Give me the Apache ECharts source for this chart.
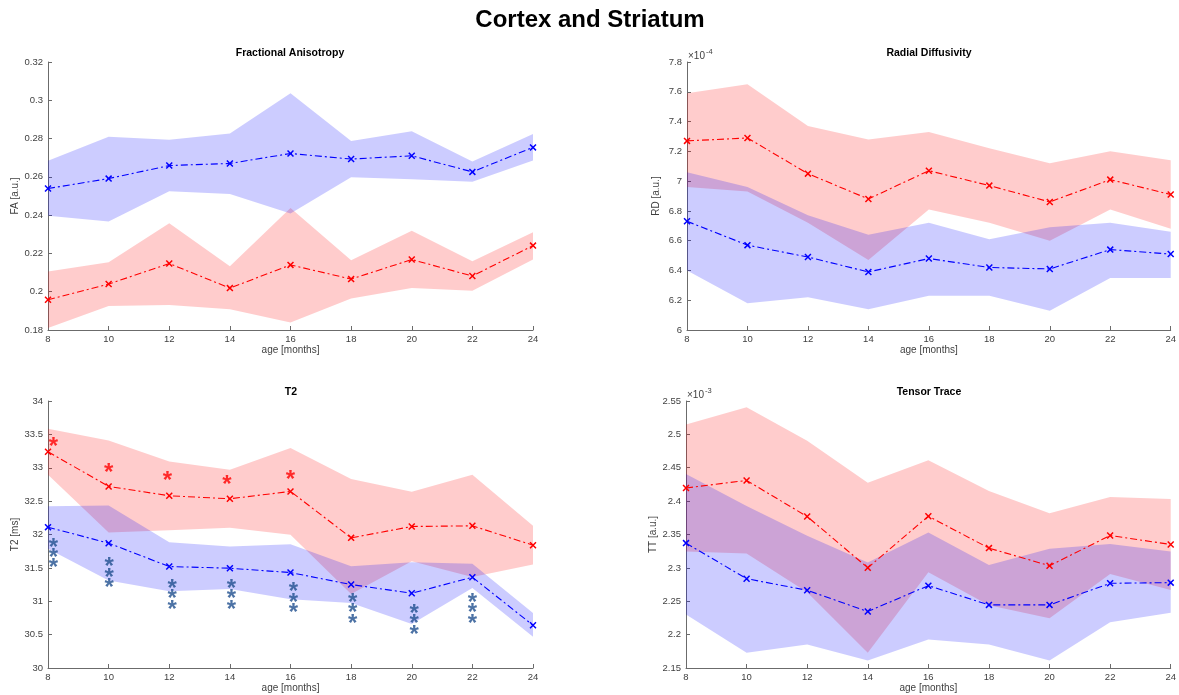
<!DOCTYPE html>
<html>
<head>
<meta charset="utf-8">
<script src="https://cdn.jsdelivr.net/npm/echarts@6/dist/echarts.min.js"></script>
<style>
  html, body { margin: 0; padding: 0; background: #ffffff; }
  #chart { width: 1179px; height: 695px; }
</style>
</head>
<body>
<div id="chart"></div>
<script>
// Age of the animals at each scan
const ages = [8, 10, 12, 14, 16, 18, 20, 22, 24];

// Fractional anisotropy [a.u.]
const faRedMean   = [0.1958, 0.2040, 0.2147, 0.2019, 0.2140, 0.2066, 0.2168, 0.2082, 0.2241];
const faRedUpper  = [0.2105, 0.2154, 0.2357, 0.2133, 0.2437, 0.2164, 0.2318, 0.2159, 0.2311];
const faRedLower  = [0.1810, 0.1926, 0.1930, 0.1909, 0.1839, 0.1965, 0.2019, 0.2005, 0.2168];
const faBlueMean  = [0.2539, 0.2591, 0.2659, 0.2670, 0.2722, 0.2693, 0.2710, 0.2626, 0.2754];
const faBlueUpper = [0.2684, 0.2810, 0.2794, 0.2826, 0.3037, 0.2787, 0.2838, 0.2680, 0.2824];
const faBlueLower = [0.2397, 0.2367, 0.2525, 0.2510, 0.2409, 0.2598, 0.2588, 0.2574, 0.2686];

// Radial diffusivity [x 1e-4]
const rdRedMean   = [7.27, 7.29, 7.05, 6.88, 7.07, 6.97, 6.86, 7.01, 6.91];
const rdRedUpper  = [7.59, 7.65, 7.37, 7.28, 7.33, 7.22, 7.12, 7.20, 7.14];
const rdRedLower  = [6.96, 6.93, 6.72, 6.47, 6.81, 6.72, 6.60, 6.81, 6.68];
const rdBlueMean  = [6.73, 6.57, 6.49, 6.39, 6.48, 6.42, 6.41, 6.54, 6.51];
const rdBlueUpper = [7.06, 6.96, 6.77, 6.64, 6.72, 6.61, 6.69, 6.72, 6.66];
const rdBlueLower = [6.40, 6.18, 6.22, 6.14, 6.23, 6.23, 6.13, 6.35, 6.35];

// T2 relaxation time [ms]
const t2RedMean   = [33.24, 32.72, 32.58, 32.535, 32.645, 31.95, 32.12, 32.13, 31.84];
const t2RedUpper  = [33.585, 33.41, 33.095, 32.97, 33.295, 32.83, 32.64, 32.895, 32.13];
const t2RedLower  = [32.895, 32.03, 32.065, 32.10, 31.995, 31.11, 31.60, 31.365, 31.55];
const t2BlueMean  = [32.11, 31.87, 31.52, 31.495, 31.43, 31.25, 31.12, 31.36, 30.64];
const t2BlueUpper = [32.425, 32.435, 31.885, 31.82, 31.855, 31.525, 31.585, 31.56, 30.825];
const t2BlueLower = [31.785, 31.31, 31.15, 31.185, 31.03, 30.975, 30.66, 31.20, 30.47];

// Significance markers on the T2 panel
const t2RedStarAge    = [8.18, 10.0, 11.94, 13.9, 16.0];
const t2RedStarLevel  = [33.40, 33.02, 32.90, 32.83, 32.905];
const t2BlueStarAge   = [8.18, 10.02, 12.1, 14.05, 16.1, 18.05, 20.08, 22.0];
const t2BlueStarLevel = [
  [31.895, 31.745, 31.585],
  [31.605, 31.445, 31.29],
  [31.28, 31.12, 30.965],
  [31.28, 31.12, 30.965],
  [31.235, 31.07, 30.915],
  [31.07, 30.91, 30.755],
  [30.90, 30.75, 30.59],
  [31.07, 30.91, 30.755]
];

// Tensor trace [x 1e-3]
const ttRedMean   = [2.4197, 2.4310, 2.3769, 2.3002, 2.3774, 2.3296, 2.3032, 2.3485, 2.3351];
const ttRedUpper  = [2.5147, 2.5405, 2.4903, 2.4276, 2.4614, 2.4152, 2.3818, 2.4062, 2.4032];
const ttRedLower  = [2.3246, 2.3216, 2.2634, 2.1729, 2.2933, 2.2440, 2.2246, 2.2908, 2.2669];
const ttBlueMean  = [2.3371, 2.2838, 2.2664, 2.2346, 2.2734, 2.2445, 2.2445, 2.2769, 2.2779];
const ttBlueUpper = [2.4405, 2.3928, 2.3480, 2.3082, 2.3530, 2.3042, 2.3286, 2.3356, 2.3246];
const ttBlueLower = [2.2301, 2.1729, 2.1853, 2.1614, 2.1928, 2.1853, 2.1614, 2.2187, 2.2326];

const FONT = '"Liberation Sans", Arial, Helvetica, sans-serif';
const AXIS_COLOR = '#6b6b6b';
const TEXT_COLOR = '#3f3f3f';
const RED = '#ff0000';
const BLUE = '#0000ff';
const RED_BAND = 'rgba(255, 0, 0, 0.2)';
const BLUE_BAND = 'rgba(0, 0, 255, 0.2)';
const STAR_BLUE = '#1f4f8f';
const CROSS = 'path://M0,1.5L1.5,0L10,8.5L8.5,10Z M8.5,0L10,1.5L1.5,10L0,8.5Z';

const panels = [
  { grid: { left: 48, top: 62, width: 485, height: 268 }, yMin: 0.18, yMax: 0.32, yStep: 0.02, yName: 'FA [a.u.]',
    red: [faRedMean, faRedUpper, faRedLower], blue: [faBlueMean, faBlueUpper, faBlueLower] },
  { grid: { left: 687, top: 62, width: 484, height: 268 }, yMin: 6, yMax: 7.8, yStep: 0.2, yName: 'RD [a.u.]',
    red: [rdRedMean, rdRedUpper, rdRedLower], blue: [rdBlueMean, rdBlueUpper, rdBlueLower] },
  { grid: { left: 48, top: 401, width: 485, height: 267 }, yMin: 30, yMax: 34, yStep: 0.5, yName: 'T2 [ms]',
    red: [t2RedMean, t2RedUpper, t2RedLower], blue: [t2BlueMean, t2BlueUpper, t2BlueLower] },
  { grid: { left: 686, top: 401, width: 485, height: 267 }, yMin: 2.15, yMax: 2.55, yStep: 0.05, yName: 'TT [a.u.]',
    red: [ttRedMean, ttRedUpper, ttRedLower], blue: [ttBlueMean, ttBlueUpper, ttBlueLower] }
];

function bandSeries(idx, upper, lower, fill) {
  return {
    type: 'custom', xAxisIndex: idx, yAxisIndex: idx, silent: true, z: 1,
    data: [[ages[0], upper[0]]],
    renderItem: function (params, api) {
      const pts = [];
      for (let k = 0; k < ages.length; k++) pts.push(api.coord([ages[k], upper[k]]));
      for (let k = ages.length - 1; k >= 0; k--) pts.push(api.coord([ages[k], lower[k]]));
      return { type: 'polygon', shape: { points: pts }, style: { fill: fill } };
    }
  };
}

function meanSeries(idx, mean, color) {
  return {
    type: 'line', xAxisIndex: idx, yAxisIndex: idx, z: 3, silent: true,
    data: ages.map((a, k) => [a, mean[k]]),
    symbol: CROSS, symbolSize: 7, showSymbol: true,
    itemStyle: { color: color },
    lineStyle: { color: color, width: 1.1, type: [7, 3, 2, 3] }
  };
}

function starSeries(idx, points, color) {
  return {
    type: 'scatter', xAxisIndex: idx, yAxisIndex: idx, z: 4, silent: true,
    data: points, symbol: 'circle', symbolSize: 1,
    itemStyle: { color: 'rgba(0,0,0,0)' },
    label: { show: true, formatter: '*', position: 'inside', offset: [0, 6.5],
             fontSize: 24, fontWeight: 'bold', fontFamily: FONT, color: color }
  };
}

const grids = [], xAxes = [], yAxes = [], series = [];
panels.forEach((p, i) => {
  grids.push(p.grid);
  xAxes.push({
    type: 'value', gridIndex: i, min: 8, max: 24, interval: 2,
    name: 'age [months]', nameLocation: 'middle', nameGap: 12,
    nameTextStyle: { fontSize: 10, color: TEXT_COLOR, fontFamily: FONT },
    axisLine: { onZero: false, lineStyle: { color: AXIS_COLOR, width: 1 } },
    axisTick: { inside: true, length: 4, lineStyle: { color: AXIS_COLOR } },
    axisLabel: { fontSize: 9.5, color: TEXT_COLOR, fontFamily: FONT, margin: 4 },
    splitLine: { show: false }
  });
  yAxes.push({
    type: 'value', gridIndex: i, min: p.yMin, max: p.yMax, interval: p.yStep,
    name: p.yName, nameLocation: 'middle', nameGap: 26,
    nameTextStyle: { fontSize: 10, color: TEXT_COLOR, fontFamily: FONT },
    axisLine: { show: true, onZero: false, lineStyle: { color: AXIS_COLOR, width: 1 } },
    axisTick: { show: true, inside: true, length: 4, lineStyle: { color: AXIS_COLOR } },
    axisLabel: { fontSize: 9.5, color: TEXT_COLOR, fontFamily: FONT, margin: 5 },
    splitLine: { show: false }
  });
  series.push(bandSeries(i, p.red[1], p.red[2], RED_BAND));
  series.push(bandSeries(i, p.blue[1], p.blue[2], BLUE_BAND));
  series.push(meanSeries(i, p.red[0], RED));
  series.push(meanSeries(i, p.blue[0], BLUE));
});

// Significance stars on the T2 panel
series.push(starSeries(2, t2RedStarAge.map((a, k) => [a, t2RedStarLevel[k]]), RED));
const bluePts = [];
t2BlueStarAge.forEach((a, k) => t2BlueStarLevel[k].forEach(v => bluePts.push([a, v])));
series.push(starSeries(2, bluePts, STAR_BLUE));

function label(text, x, y, font, align) {
  return { type: 'text', silent: true, z: 10,
    style: { text: text, x: x, y: y, font: font, fill: '#000',
             align: align || 'center', verticalAlign: 'middle',
             textAlign: align || 'center', textVerticalAlign: 'middle' } };
}
function exponent(x, y, power) {
  return [
    { type: 'text', silent: true, z: 10,
      style: { text: '\u00d710', x: x, y: y, font: '10px ' + FONT, fill: TEXT_COLOR,
               align: 'left', verticalAlign: 'middle', textAlign: 'left', textVerticalAlign: 'middle' } },
    { type: 'text', silent: true, z: 10,
      style: { text: power, x: x + 18, y: y - 4, font: '7.5px ' + FONT, fill: TEXT_COLOR,
               align: 'left', verticalAlign: 'middle', textAlign: 'left', textVerticalAlign: 'middle' } }
  ];
}

const chart = echarts.init(document.getElementById('chart'), null, { renderer: 'canvas' });
chart.setOption({
  animation: false,
  backgroundColor: '#ffffff',
  grid: grids,
  xAxis: xAxes,
  yAxis: yAxes,
  series: series,
  graphic: [
    label('Cortex and Striatum', 590, 20, 'bold 24px ' + FONT),
    label('Fractional Anisotropy', 290, 53, 'bold 10.5px ' + FONT),
    label('Radial Diffusivity', 929, 53, 'bold 10.5px ' + FONT),
    label('T2', 291, 392, 'bold 10.5px ' + FONT),
    label('Tensor Trace', 929, 392, 'bold 10.5px ' + FONT)
  ].concat(exponent(688, 56, '-4'), exponent(687, 395, '-3'))
});
</script>
</body>
</html>
